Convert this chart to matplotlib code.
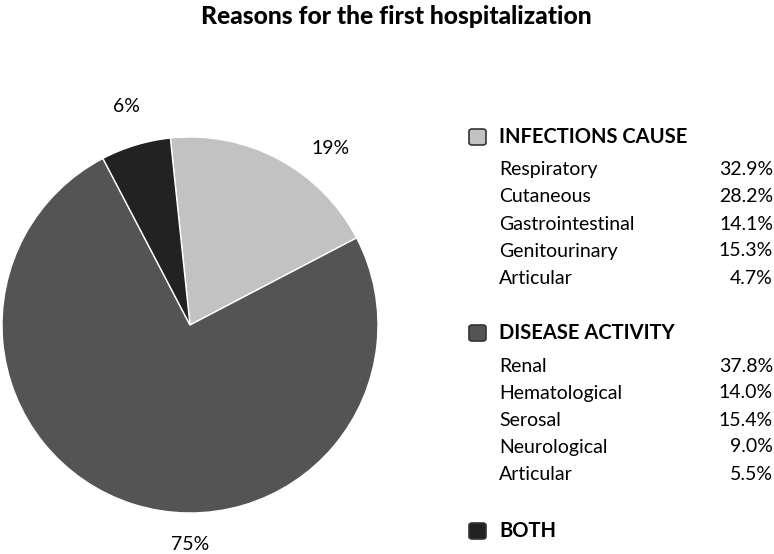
import matplotlib.pyplot as plt
from matplotlib.patches import FancyBboxPatch

# data
groups = ['INFECTIONS CAUSE', 'DISEASE ACTIVITY', 'BOTH']
shares = [19, 75, 6]
colors = ['#c2c2c2', '#545454', '#222222']
infection_items = ['Respiratory', 'Cutaneous', 'Gastrointestinal', 'Genitourinary', 'Articular']
infection_vals = [32.9, 28.2, 14.1, 15.3, 4.7]
activity_items = ['Renal', 'Hematological', 'Serosal', 'Neurological', 'Articular']
activity_vals = [37.8, 14.0, 15.4, 9.0, 5.5]

FONT = ['Lato', 'DejaVu Sans']
W, H = 774, 554

def fx(px):
    return px / W

def fy(py):
    return 1 - py / H

def main():
    plt.rcParams['font.family'] = FONT
    fig = plt.figure(figsize=(W / 100, H / 100), dpi=100)
    ax = fig.add_axes([fx(2), fy(513), 376 / W, 376 / H])
    ax.pie(shares, colors=colors, startangle=96, counterclock=False, radius=1,
           wedgeprops=dict(edgecolor='white', linewidth=1))
    ax.set_xlim(-1, 1)
    ax.set_ylim(-1, 1)
    ax.set_aspect('equal')
    ax.axis('off')

    # percent labels next to their slices
    label_pos = [(0.75, 0.94), (0.0, -1.17), (-0.34, 1.16)]
    for s, (lx, ly) in zip(shares, label_pos):
        ax.text(lx, ly, f'{s}%', ha='center', va='center', fontsize=14, clip_on=False)

    fig.text(fx(396), fy(16), 'Reasons for the first hospitalization', ha='center', va='center',
             fontsize=17.7, fontweight='black')

    # legend drawn by hand
    head_y = [137, 333, 531]
    sub = [(infection_items, infection_vals), (activity_items, activity_vals), ([], [])]
    for g, c, hy, (items, vals) in zip(groups, colors, head_y, sub):
        box = FancyBboxPatch((fx(469), fy(hy + 8)), 17 / W, 16 / H,
                             boxstyle='round,pad=0,rounding_size=0.004',
                             transform=fig.transFigure, facecolor=c,
                             edgecolor='#333333', linewidth=1.2)
        fig.patches.append(box)
        fig.text(fx(499), fy(hy), g, ha='left', va='center', fontsize=14.5, fontweight='bold')
        for i, (name, v) in enumerate(zip(items, vals)):
            y = hy + 33 + i * 27
            fig.text(fx(499), fy(y), name, ha='left', va='center', fontsize=14)
            fig.text(fx(773), fy(y), f'{v:.1f}%', ha='right', va='center', fontsize=14)

    fig.savefig('out.png', dpi=100)

if __name__ == '__main__':
    main()
